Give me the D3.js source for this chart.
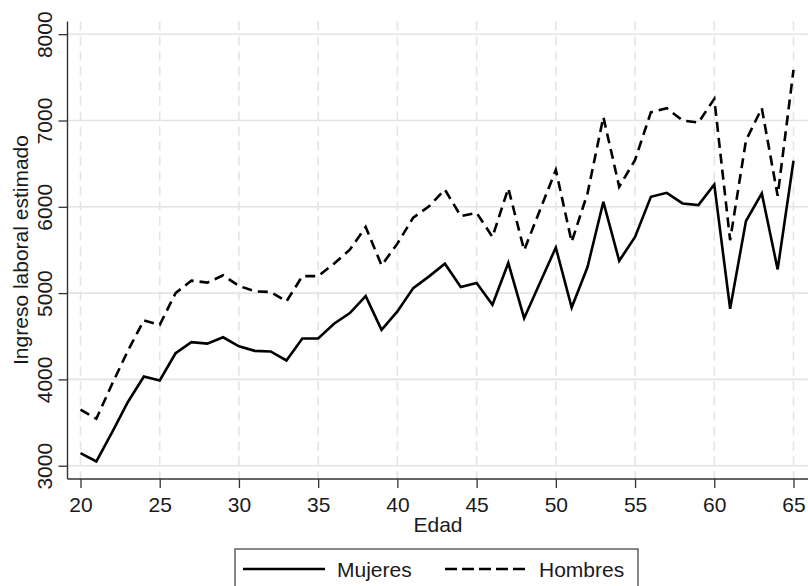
<!DOCTYPE html>
<html>
<head>
<meta charset="utf-8">
<script src="https://cdn.jsdelivr.net/npm/d3@7"></script>
<style>
  html, body { margin: 0; padding: 0; background: #fff; }
  svg { display: block; }
  text { font-family: "Liberation Sans", Arial, sans-serif; fill: #1a1a1a; }
</style>
</head>
<body>
<svg id="chart" width="808" height="586"></svg>
<script>
// Edad (años)
const ages = d3.range(20, 66);

// Ingreso laboral estimado por edad
const mujeres = [
  3146, 3050, 3389, 3741, 4034, 3987, 4303, 4431, 4415, 4488,
  4384, 4331, 4324, 4219, 4474, 4474, 4645, 4768, 4965, 4575,
  4788, 5058, 5194, 5341, 5070, 5116, 4865, 5349, 4709, 5121,
  5528, 4833, 5302, 6058, 5374, 5651, 6116, 6162, 6039, 6020,
  6259, 4819, 5835, 6155, 5275, 6534
];
const hombres = [
  3651, 3544, 3949, 4336, 4684, 4632, 5000, 5145, 5121, 5206,
  5083, 5021, 5012, 4904, 5197, 5197, 5341, 5503, 5766, 5321,
  5573, 5875, 6006, 6199, 5892, 5930, 5651, 6214, 5497, 5962,
  6427, 5593, 6156, 7040, 6233, 6543, 7096, 7142, 7000, 6977,
  7251, 5613, 6769, 7142, 6127, 7586
];

const xTicks = [20, 25, 30, 35, 40, 45, 50, 55, 60, 65];
const yTicks = [3000, 4000, 5000, 6000, 7000, 8000];

const seriesNames = ["Mujeres", "Hombres"];

const svg = d3.select("#chart");

const plotLeft = 67.5, plotTop = 21.5, plotBottom = 479, plotRight = 808;

const x = d3.scaleLinear().domain([20, 65]).range([80.5, 793.5]);
const y = d3.scaleLinear().domain([3000, 8000]).range([465.7, 34.2]);

const gridColor = "#e4e4e4";

// horizontal grid
svg.append("g")
  .selectAll("line")
  .data(yTicks)
  .join("line")
  .attr("x1", plotLeft).attr("x2", plotRight)
  .attr("y1", d => y(d)).attr("y2", d => y(d))
  .attr("stroke", gridColor).attr("stroke-width", 1.6);

// vertical grid (dashed)
svg.append("g")
  .selectAll("line")
  .data(xTicks)
  .join("line")
  .attr("x1", d => x(d)).attr("x2", d => x(d))
  .attr("y1", plotTop).attr("y2", plotBottom)
  .attr("stroke", gridColor).attr("stroke-width", 1.6)
  .attr("stroke-dasharray", "9,6");

// Y axis
const yAxis = svg.append("g")
  .attr("transform", `translate(${plotLeft},0)`)
  .call(d3.axisLeft(y).tickValues(yTicks).tickSize(9).tickSizeOuter(0).tickFormat(d3.format("d")));
yAxis.select(".domain").remove();
yAxis.selectAll(".tick line").attr("stroke", "#333").attr("stroke-width", 1.3);
yAxis.selectAll(".tick text").remove();
yAxis.selectAll(".tick")
  .append("text")
  .attr("transform", "translate(-23.5,0) rotate(-90)")
  .attr("text-anchor", "middle")
  .attr("dy", "0.36em")
  .style("font-size", "21px")
  .text(d => d3.format("d")(d));
svg.append("line")
  .attr("x1", plotLeft).attr("x2", plotLeft)
  .attr("y1", plotTop).attr("y2", plotBottom)
  .attr("stroke", "#333").attr("stroke-width", 1.4);

// X axis
const xAxis = svg.append("g")
  .attr("transform", `translate(0,${plotBottom})`)
  .call(d3.axisBottom(x).tickValues(xTicks).tickSize(9).tickSizeOuter(0));
xAxis.select(".domain").remove();
xAxis.selectAll(".tick line").attr("stroke", "#333").attr("stroke-width", 1.3);
xAxis.selectAll(".tick text")
  .attr("y", 32.5).attr("dy", null)
  .style("font-size", "21px")
  .style("font-family", "'Liberation Sans', Arial, sans-serif")
  .attr("fill", "#1a1a1a");
svg.append("line")
  .attr("x1", plotLeft).attr("x2", plotRight)
  .attr("y1", plotBottom).attr("y2", plotBottom)
  .attr("stroke", "#333").attr("stroke-width", 1.4);

// axis titles
svg.append("text")
  .attr("x", 438).attr("y", 532)
  .attr("text-anchor", "middle")
  .style("font-size", "21px")
  .text("Edad");

svg.append("text")
  .attr("transform", "translate(27.5,250) rotate(-90)")
  .attr("text-anchor", "middle")
  .style("font-size", "21px")
  .text("Ingreso laboral estimado");

// series lines
const line = d3.line()
  .x((d, i) => x(ages[i]))
  .y(d => y(d));

svg.append("path")
  .datum(mujeres)
  .attr("d", line)
  .attr("fill", "none")
  .attr("stroke", "#000")
  .attr("stroke-width", 2.6)
  .attr("stroke-linejoin", "miter");

svg.append("path")
  .datum(hombres)
  .attr("d", line)
  .attr("fill", "none")
  .attr("stroke", "#000")
  .attr("stroke-width", 2.6)
  .attr("stroke-dasharray", "10,6");

// legend
const legend = svg.append("g");
legend.append("rect")
  .attr("x", 235).attr("y", 549)
  .attr("width", 403).attr("height", 60)
  .attr("fill", "#fff")
  .attr("stroke", "#555").attr("stroke-width", 1.4);

const legendItems = [
  { name: seriesNames[0], x1: 243, x2: 325, tx: 337, dash: null },
  { name: seriesNames[1], x1: 445, x2: 525, tx: 539, dash: "12,5" }
];
legendItems.forEach(item => {
  legend.append("line")
    .attr("x1", item.x1).attr("x2", item.x2)
    .attr("y1", 569).attr("y2", 569)
    .attr("stroke", "#000").attr("stroke-width", 2.6)
    .attr("stroke-dasharray", item.dash);
  legend.append("text")
    .attr("x", item.tx).attr("y", 576.5)
    .style("font-size", "21px")
    .text(item.name);
});
</script>
</body>
</html>
